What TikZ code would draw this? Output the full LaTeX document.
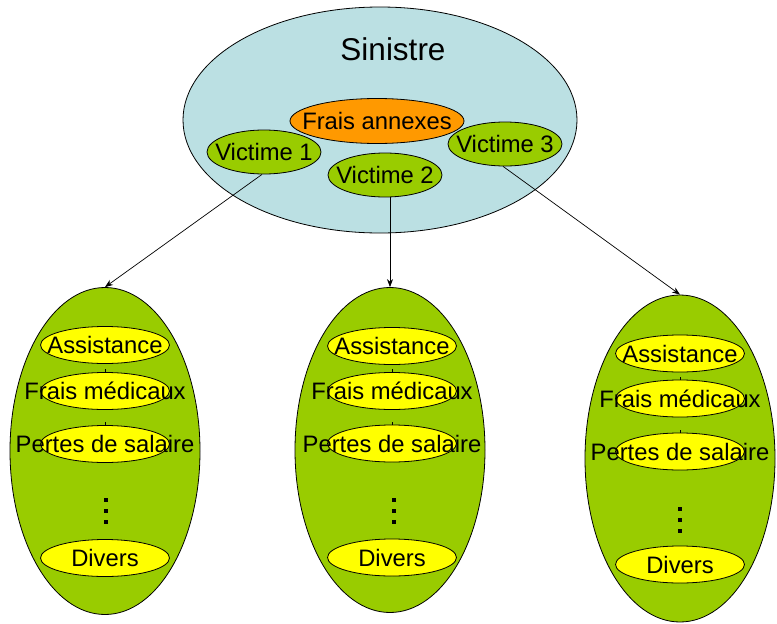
\documentclass[tikz,border=0pt]{standalone}
\usepackage{fontspec}
\setmainfont{Liberation Sans}
\usetikzlibrary{shapes.geometric,arrows.meta,calc}
\definecolor{skyfill}{HTML}{BBE0E3}
\definecolor{leaf}{HTML}{99CC00}
\definecolor{amber}{HTML}{FF9900}
\definecolor{lemon}{HTML}{FFFF00}
\tikzset{
  oval/.style={ellipse, draw=black, line width=0.8pt, inner sep=0pt, font=\fontsize{23.8}{26}\selectfont},
  victim/.style={oval, fill=leaf, minimum width=114pt, minimum height=44pt},
  annex/.style={oval, fill=amber, minimum width=174pt, minimum height=45pt},
  bigleaf/.style={oval, fill=leaf, minimum width=190pt, minimum height=327pt},
  item/.style={oval, fill=lemon, minimum width=129pt, minimum height=37pt},
  link/.style={line width=0.7pt, -{Stealth[length=8pt,width=6pt]}},
  tick/.style={line width=0.6pt},
  dotsq/.style={fill=black, draw=none, minimum size=4pt, inner sep=0pt, rectangle}
}
\newcommand{\zw}[1]{\makebox[0pt]{#1}}
\begin{document}
\begin{tikzpicture}[x=1pt,y=-1pt]
\useasboundingbox (0,0) rectangle (777,624);
% top cluster
\node[oval, fill=skyfill, minimum width=394pt, minimum height=226pt] (sin) at (380,120) {};
\node[font=\fontsize{31.5}{34}\selectfont, inner sep=0pt] (sint) at (393,49) {Sinistre};
\node[annex] (fa) at (377,121) {\zw{Frais annexes}};
\node[victim] (v1) at (264,152) {\zw{Victime 1}};
\node[victim] (v3) at (505,144) {\zw{Victime 3}};
\node[victim] (v2) at (385,175) {\zw{Victime 2}};
% bottom clusters
\node[bigleaf] (L) at (105,451) {};
\node[bigleaf, minimum height=325pt] (M) at (390,450) {};
\node[bigleaf] (R) at (680,458.5) {};
% left column
\node[item] (la) at (105,345) {\zw{Assistance}};
\node[item] (lf) at (105,391) {\zw{Frais médicaux}};
\node[item] (lp) at (105,444) {\zw{Pertes de salaire}};
\node[item] (ld) at (105,558) {\zw{Divers}};
\node[dotsq] (ld1) at (106,500) {};
\node[dotsq] (ld2) at (106,511) {};
\node[dotsq] (ld3) at (106,522) {};
% middle column
\node[item] (ma) at (392,346) {\zw{Assistance}};
\node[item] (mf) at (392,391) {\zw{Frais médicaux}};
\node[item] (mp) at (392,443.5) {\zw{Pertes de salaire}};
\node[item] (md) at (392,557.5) {\zw{Divers}};
\node[dotsq] (md1) at (394,500) {};
\node[dotsq] (md2) at (394,511) {};
\node[dotsq] (md3) at (394,522) {};
% right column
\node[item] (ra) at (680,353.5) {\zw{Assistance}};
\node[item] (rf) at (680,398.5) {\zw{Frais médicaux}};
\node[item] (rp) at (680,451.5) {\zw{Pertes de salaire}};
\node[item] (rd) at (680,564.5) {\zw{Divers}};
\node[dotsq] (rd1) at (680,509) {};
\node[dotsq] (rd2) at (680,520) {};
\node[dotsq] (rd3) at (680,531) {};
% small ticks above items
\foreach \n in {lf,lp,mf,mp,rf,rp}
  \draw[tick] (\n.north) -- ($(\n.north)+(0,-3)$);
% arrows
\draw[link] (v1.-95) -- (L.north);
\draw[link] (v2.south -| M.north) -- (M.north);
\draw[link] (v3.-95) -- (R.north);
\end{tikzpicture}
\end{document}
